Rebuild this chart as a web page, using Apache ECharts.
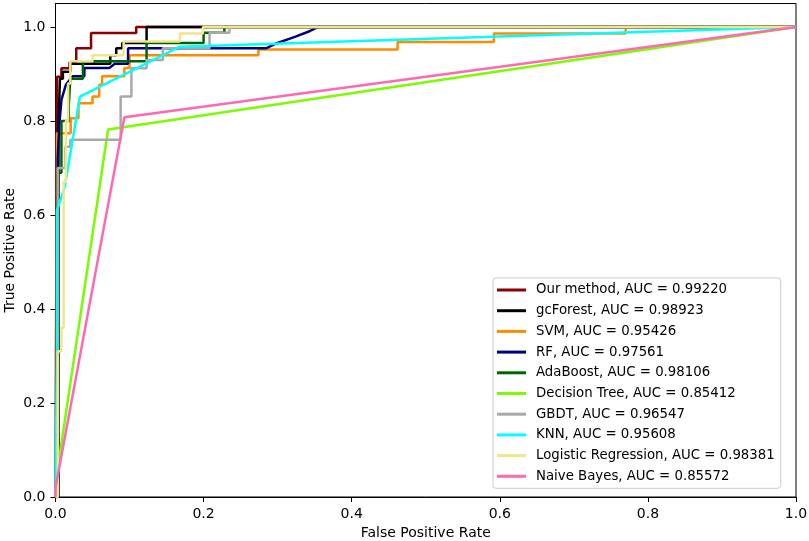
<!DOCTYPE html>
<html>
<head>
<meta charset="utf-8">
<script src="https://cdn.jsdelivr.net/npm/echarts@6/dist/echarts.min.js"></script>
<style>
  html, body { margin: 0; padding: 0; background: #fff; }
  #chart1 { width: 809px; height: 541px; }
</style>
</head>
<body>
<div id="chart1"></div>
<script>
// ROC curves, points read as [fpr, tpr]
var ourMethod = [[0,0],[0.002,0],[0.002,0.894],[0.008,0.894],[0.008,0.912],[0.019,0.912],[0.019,0.925],[0.028,0.925],[0.028,0.955],[0.048,0.955],[0.048,0.987],[0.109,0.987],[0.109,1],[1,1]];
var gcForest = [[0,0],[0.004,0],[0.004,0.79],[0.006,0.79],[0.006,0.89],[0.01,0.89],[0.01,0.905],[0.02,0.905],[0.02,0.922],[0.074,0.922],[0.074,0.94],[0.082,0.94],[0.082,0.955],[0.09,0.955],[0.09,0.966],[0.123,0.966],[0.123,1],[0.197,1],[1,1]];
var svm = [[0,0],[0.002,0.015],[0.002,0.774],[0.0205,0.774],[0.0205,0.806],[0.031,0.806],[0.031,0.838],[0.05,0.838],[0.05,0.852],[0.059,0.852],[0.059,0.877],[0.063,0.877],[0.063,0.895],[0.093,0.895],[0.093,0.913],[0.1,0.913],[0.1,0.94],[0.274,0.94],[0.274,0.952],[0.462,0.952],[0.462,0.968],[0.592,0.968],[0.592,0.986],[0.77,0.986],[0.77,1],[1,1]];
var rf = [[0,0],[0.003,0],[0.003,0.72],[0.005,0.79],[0.008,0.845],[0.014,0.877],[0.023,0.895],[0.039,0.895],[0.039,0.913],[0.073,0.913],[0.08,0.922],[0.098,0.922],[0.098,0.955],[0.285,0.955],[0.298,0.965],[0.325,0.98],[0.343,0.991],[0.352,0.998],[0.355,1],[1,1]];
var adaBoost = [[0,0],[0.003,0],[0.003,0.69],[0.008,0.69],[0.008,0.8],[0.018,0.8],[0.018,0.834],[0.02,0.834],[0.02,0.89],[0.037,0.89],[0.037,0.927],[0.123,0.927],[0.123,0.966],[0.2,0.966],[0.2,0.988],[0.228,0.988],[0.228,1],[1,1]];
var decisionTree = [[0,0],[0.002,0.05],[0.071,0.782],[1,1]];
var gbdt = [[0,0],[0.003,0],[0.003,0.7],[0.013,0.7],[0.013,0.745],[0.02,0.745],[0.02,0.76],[0.088,0.76],[0.088,0.852],[0.1025,0.852],[0.1025,0.912],[0.123,0.912],[0.123,0.93],[0.145,0.93],[0.145,0.955],[0.208,0.955],[0.208,0.988],[0.235,0.988],[0.235,1],[1,1]];
var knn = [[0,0],[0.002,0.31],[0.002,0.61],[0.0125,0.66],[0.033,0.852],[0.168,0.958],[1,1]];
var logistic = [[0,0],[0.003,0],[0.003,0.31],[0.008,0.31],[0.008,0.36],[0.011,0.36],[0.011,0.67],[0.014,0.67],[0.014,0.8],[0.017,0.8],[0.017,0.88],[0.02,0.88],[0.02,0.927],[0.05,0.927],[0.05,0.94],[0.092,0.94],[0.092,0.969],[0.168,0.969],[0.168,0.986],[0.199,0.986],[0.199,1],[1,1]];
var naiveBayes = [[0,0],[0,0.02],[0.093,0.808],[1,1]];

var names = ['Our method, AUC = 0.99220', 'gcForest, AUC = 0.98923', 'SVM, AUC = 0.95426',
  'RF, AUC = 0.97561', 'AdaBoost, AUC = 0.98106', 'Decision Tree, AUC = 0.85412',
  'GBDT, AUC = 0.96547', 'KNN, AUC = 0.95608', 'Logistic Regression, AUC = 0.98381',
  'Naive Bayes, AUC = 0.85572'];
var curves = [ourMethod, gcForest, svm, rf, adaBoost, decisionTree, gbdt, knn, logistic, naiveBayes];
var colors = ['#8b0000', '#000000', '#ff8c00', '#000080', '#006400', '#7cfc00', '#a9a9a9', '#00ffff', '#f0e68c', '#ff69b4'];
var ticks = [0, 0.2, 0.4, 0.6, 0.8, 1.0];

var chartDom = document.getElementById('chart1');
var myChart = echarts.init(chartDom);
var font = 'DejaVu Sans';

var series = curves.map(function (c, i) {
  return {
    name: names[i],
    type: 'line',
    data: c,
    showSymbol: false,
    symbol: 'none',
    lineStyle: { width: 2.5, color: colors[i] },
    itemStyle: { color: colors[i] }
  };
});

var option = {
  animation: false,
  color: colors,
  grid: {
    left: 55.5, right: 13, top: 3.5, bottom: 44,
    outerBoundsMode: 'none',
    containLabel: false,
    show: true, borderColor: '#000', borderWidth: 1
  },
  xAxis: {
    type: 'value', min: 0, max: 1, interval: 0.2,
    name: 'False Positive Rate', nameLocation: 'middle', nameGap: 29,
    nameMoveOverlap: false,
    nameTextStyle: { fontFamily: font, fontSize: 14, color: '#000' },
    axisLine: { lineStyle: { color: '#000', width: 1 } },
    axisTick: { show: true, inside: false, length: 5, lineStyle: { color: '#000' } },
    axisLabel: { margin: 10, fontFamily: font, fontSize: 14, color: '#000',
      formatter: function (v) { return v.toFixed(1); } },
    splitLine: { show: false }
  },
  yAxis: {
    type: 'value', min: 0, max: 1.05, interval: 0.2,
    name: 'True Positive Rate', nameLocation: 'middle', nameGap: 38,
    nameMoveOverlap: false,
    nameTextStyle: { fontFamily: font, fontSize: 14, color: '#000' },
    axisLine: { show: true, lineStyle: { color: '#000', width: 1 } },
    axisTick: { show: true, inside: false, length: 5, lineStyle: { color: '#000' },
      customValues: ticks },
    axisLabel: { margin: 10, fontFamily: font, fontSize: 14, color: '#000',
      customValues: ticks,
      formatter: function (v) { return v.toFixed(1); } },
    splitLine: { show: false }
  },
  legend: {
    orient: 'vertical',
    left: 493, top: 278,
    padding: [5, 6, 5, 4],
    itemGap: 6.7,
    itemWidth: 29, itemHeight: 3,
    icon: 'rect',
    backgroundColor: '#fff',
    borderColor: '#cccccc', borderWidth: 1, borderRadius: 3,
    textStyle: { fontFamily: font, fontSize: 13.3, color: '#000', lineHeight: 14,
      padding: [0, 0, 0, 5] },
    data: names
  },
  series: series
};

option && myChart.setOption(option);
window.onresize = function() {
  myChart.resize();
};
</script>
</body>
</html>
